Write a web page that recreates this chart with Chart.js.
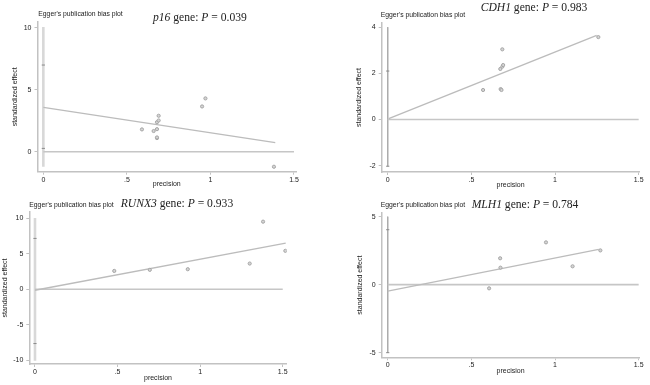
<!DOCTYPE html>
<html>
<head>
<meta charset="utf-8">
<script src="https://cdn.jsdelivr.net/npm/chart.js@4.4.1/dist/chart.umd.min.js"></script>
<style>
  html, body { margin: 0; padding: 0; background: #fff; }
  #wrap { position: relative; width: 650px; height: 385px; overflow: hidden; }
  #wrap canvas { position: absolute; left: 0; top: 0; }
</style>
</head>
<body>
<div id="wrap">
  <canvas id="p16" width="650" height="385"></canvas>
  <canvas id="cdh1" width="650" height="385"></canvas>
  <canvas id="runx3" width="650" height="385"></canvas>
  <canvas id="mlh1" width="650" height="385"></canvas>
</div>
<script>
// shared x ticks (precision)
const X_TICKS = [0, 0.5, 1, 1.5];

// p16
const P16_X = [0.59, 0.66, 0.68, 0.68, 0.68, 0.68, 0.69, 0.69, 0.95, 0.97, 1.38];
const P16_Y = [1.8, 1.67, 1.1, 1.15, 1.82, 2.38, 2.52, 2.9, 3.65, 4.3, -1.21];
const P16_FIT_X = [0, 1.388];
const P16_FIT_Y = [3.58, 0.73];
const P16_CI = [10.05, -1.21];
const P16_CI_MARKS = [6.99, 0.27];
const P16_Y_TICKS = [0, 5, 10];

// CDH1
const CDH1_X = [0.57, 0.675, 0.68, 0.673, 0.685, 0.69, 0.685, 1.259];
const CDH1_Y = [1.28, 1.32, 1.28, 2.19, 2.29, 2.36, 3.04, 3.57];
const CDH1_FIT_X = [0.006, 1.249];
const CDH1_FIT_Y = [0.04, 3.64];
const CDH1_CI = [4.0, -2.02];
const CDH1_CI_MARKS = [2.1, -2.02];
const CDH1_Y_TICKS = [-2, 0, 2, 4];

// RUNX3
const RUNX3_X = [0.48, 0.695, 0.925, 1.30, 1.381, 1.516];
const RUNX3_Y = [2.59, 2.74, 2.83, 3.63, 9.53, 5.42];
const RUNX3_FIT_X = [0, 1.518];
const RUNX3_FIT_Y = [-0.14, 6.5];
const RUNX3_CI = [10.05, -10.05];
const RUNX3_CI_MARKS = [7.17, -7.64];
const RUNX3_Y_TICKS = [-10, -5, 0, 5, 10];

// MLH1
const MLH1_X = [0.606, 0.672, 0.674, 0.946, 1.105, 1.271];
const MLH1_Y = [-0.27, 1.94, 1.25, 3.11, 1.35, 2.52];
const MLH1_FIT_X = [0, 1.261];
const MLH1_FIT_Y = [-0.47, 2.6];
const MLH1_CI = [5.0, -5.0];
const MLH1_CI_MARKS = [4.04, -5.0];
const MLH1_Y_TICKS = [-5, 0, 5];

const SANS = '"Liberation Sans", Arial, sans-serif';
const SERIF = '"Liberation Serif", "Times New Roman", serif';
const TXT = '#222';
const AXIS = '#c2c2c2';

const fmt = v => (v === 0 ? '0' : String(v).replace(/^0\./, '.'));
const pts = (xs, ys) => xs.map((x, i) => ({ x, y: ys[i] }));

// titles: small stata caption + mixed italic serif heading
const titlePlugin = {
	id: 'panelTitles',
	afterDraw(chart, args, opts) {
		const ctx = chart.ctx;
		ctx.save();
		ctx.fillStyle = TXT;
		ctx.textBaseline = 'middle';
		ctx.font = '6.8px ' + SANS;
		ctx.fillText("Egger's publication bias plot", opts.sub[0], opts.sub[1]);
		ctx.textBaseline = 'alphabetic';
		let x = opts.main[0];
		opts.parts.forEach(([t, it]) => {
			ctx.font = (it ? 'italic ' : '') + '11.6px ' + SERIF;
			ctx.fillText(t, x, opts.main[1]);
			x += ctx.measureText(t).width;
		});
		ctx.restore();
	},
};

const makePanel = (id, p) => {
	const yW = p.yW, xH = p.xH;
	const thick = p.thickCi;
	const CONFIG = {
		type: 'scatter',
		data: {
			datasets: [
				{
					// regression line
					type: 'line',
					data: pts(p.fitX, p.fitY),
					borderColor: '#bcbcbc',
					borderWidth: 1.4,
					pointRadius: 0,
					order: 3,
				},
				{
					// zero reference
					type: 'line',
					data: pts([X_TICKS[0], X_TICKS[X_TICKS.length - 1]], [0, 0]),
					borderColor: '#c6c6c6',
					borderWidth: 1.6,
					pointRadius: 0,
					order: 4,
				},
				{
					// intercept CI at x = 0
					type: 'line',
					data: pts([0, 0], p.ci),
					borderColor: thick ? '#d8d8d8' : '#acacac',
					borderWidth: thick ? 2.6 : 1,
					pointRadius: 0,
					order: 5,
				},
				{
					data: pts([0, 0], p.ciMarks),
					pointStyle: 'line',
					pointRadius: 1.6,
					borderColor: '#8a8a8a',
					borderWidth: 1,
					order: 2,
				},
				{
					data: pts(p.x, p.y),
					pointRadius: 1.6,
					borderColor: '#a6a6a6',
					backgroundColor: '#d4d4d4',
					borderWidth: 1,
					order: 1,
				},
			],
		},
		options: {
			responsive: false,
			animation: false,
			events: [],
			layout: {
				padding: {
					left: p.area.left - yW,
					right: 650 - p.area.right,
					top: p.area.top,
					bottom: 385 - p.area.bottom - xH,
				},
			},
			scales: {
				x: {
					type: 'linear',
					bounds: 'data',
					min: p.xRange[0],
					max: p.xRange[1],
					afterBuildTicks: s => { s.ticks = X_TICKS.map(v => ({ value: v })); },
					afterFit: s => { s.height = xH; },
					grid: { drawOnChartArea: false, drawTicks: true, tickLength: 3, color: AXIS, lineWidth: 1 },
					border: { display: true, color: AXIS, width: 1.5 },
					ticks: { autoSkip: false, maxRotation: 0, padding: 1, color: TXT, font: { size: 7, family: SANS }, callback: fmt },
					title: { display: true, text: 'precision', color: TXT, font: { size: 7, family: SANS }, padding: 0 },
				},
				y: {
					type: 'linear',
					bounds: 'data',
					min: p.yRange[0],
					max: p.yRange[1],
					afterBuildTicks: s => { s.ticks = p.yTicks.map(v => ({ value: v })); },
					afterFit: s => { s.width = yW; },
					grid: { drawOnChartArea: false, drawTicks: true, tickLength: 3, color: AXIS, lineWidth: 1 },
					border: { display: true, color: AXIS, width: 1.5 },
					ticks: { autoSkip: false, padding: 3, color: TXT, font: { size: 7, family: SANS }, callback: fmt },
					title: { display: true, text: 'standardized effect', color: TXT, font: { size: 7, family: SANS }, padding: 0 },
				},
			},
			plugins: {
				legend: { display: false },
				tooltip: { enabled: false },
				panelTitles: { sub: p.sub, main: p.main, parts: p.parts },
			},
		},
		plugins: [titlePlugin],
	};
	return new Chart(document.getElementById(id), CONFIG);
};

makePanel('p16', {
	x: P16_X, y: P16_Y, fitX: P16_FIT_X, fitY: P16_FIT_Y, ci: P16_CI, ciMarks: P16_CI_MARKS, yTicks: P16_Y_TICKS,
	thickCi: true,
	area: { left: 37.5, right: 296, top: 22, bottom: 171.7 },
	xRange: [-0.035, 1.512], yRange: [-1.61, 10.46],
	yW: 26.7, xH: 16.5,
	sub: [38.3, 14.5], main: [153, 20.7],
	parts: [['p16', true], [' gene: ', false], ['P', true], [' = 0.039', false]],
});

makePanel('cdh1', {
	x: CDH1_X, y: CDH1_Y, fitX: CDH1_FIT_X, fitY: CDH1_FIT_Y, ci: CDH1_CI, ciMarks: CDH1_CI_MARKS, yTicks: CDH1_Y_TICKS,
	thickCi: false,
	area: { left: 381.7, right: 639.5, top: 23, bottom: 172 },
	xRange: [-0.036, 1.505], yRange: [-2.27, 4.18],
	yW: 26.6, xH: 17.2,
	sub: [380.7, 14.7], main: [480.7, 11],
	parts: [['CDH1', true], [' gene: ', false], ['P', true], [' = 0.983', false]],
});

makePanel('runx3', {
	x: RUNX3_X, y: RUNX3_Y, fitX: RUNX3_FIT_X, fitY: RUNX3_FIT_Y, ci: RUNX3_CI, ciMarks: RUNX3_CI_MARKS, yTicks: RUNX3_Y_TICKS,
	thickCi: true,
	area: { left: 29.3, right: 286.7, top: 212, bottom: 364 },
	xRange: [-0.0345, 1.524], yRange: [-10.52, 10.89],
	yW: 28.5, xH: 18.2,
	sub: [29.3, 205], main: [120.7, 207.3],
	parts: [['RUNX3', true], [' gene: ', false], ['P', true], [' = 0.933', false]],
});

makePanel('mlh1', {
	x: MLH1_X, y: MLH1_Y, fitX: MLH1_FIT_X, fitY: MLH1_FIT_Y, ci: MLH1_CI, ciMarks: MLH1_CI_MARKS, yTicks: MLH1_Y_TICKS,
	thickCi: false,
	area: { left: 381.7, right: 639.5, top: 213, bottom: 357.3 },
	xRange: [-0.036, 1.505], yRange: [-5.34, 5.27],
	yW: 25.9, xH: 17.9,
	sub: [380.7, 205], main: [471.7, 208.3],
	parts: [['MLH1', true], [' gene: ', false], ['P', true], [' = 0.784', false]],
});
</script>
</body>
</html>
